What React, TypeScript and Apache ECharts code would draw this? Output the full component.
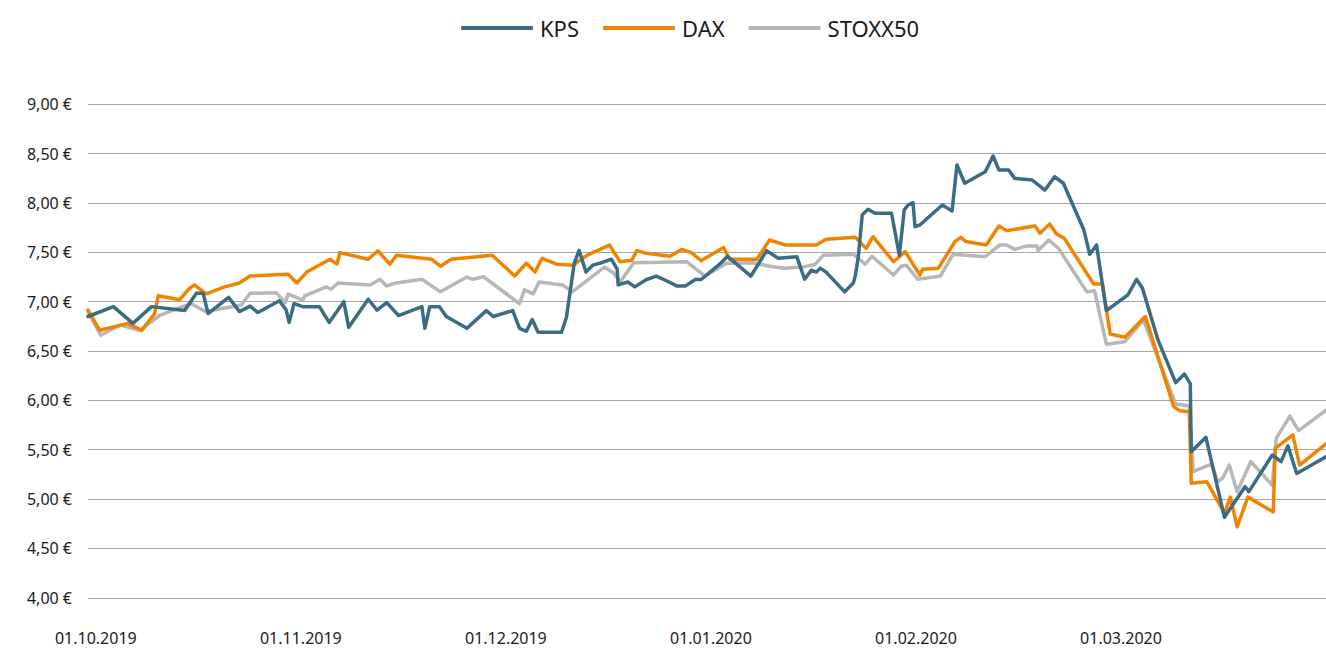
import React, { useEffect, useRef } from "react";
import * as echarts from "echarts";

// x = trading-day index from 01.10.2019 (21 per month label), y = price in €
const monthLabels = ["01.10.2019", "01.11.2019", "01.12.2019", "01.01.2020", "01.02.2020", "01.03.2020"];
const monthTicks = [0, 21, 42, 63, 84, 105];
const yTicksMin = 4;
const yTicksMax = 9;

const kpsPoints: [number, number][] = [
  [-0.8, 6.85], [1.8, 6.95], [3.8, 6.78], [5.7, 6.95], [9.1, 6.91], [10.3, 7.085], [11.0, 7.085],
  [11.5, 6.88], [13.6, 7.045], [14.7, 6.9], [15.8, 6.955], [16.6, 6.89], [18.8, 7.01], [19.5, 6.915],
  [19.8, 6.79], [20.3, 6.98], [21.2, 6.95], [22.9, 6.95], [23.9, 6.79], [25.4, 7.0], [25.9, 6.74],
  [27.9, 7.025], [28.8, 6.915], [29.8, 6.99], [31.0, 6.86], [33.4, 6.95], [33.7, 6.73], [34.2, 6.95],
  [35.2, 6.95], [35.9, 6.85], [38.0, 6.73], [40.0, 6.91], [40.7, 6.85], [42.7, 6.91], [43.4, 6.73],
  [44.1, 6.7], [44.7, 6.82], [45.3, 6.69], [47.7, 6.69], [48.2, 6.84], [49.0, 7.39], [49.5, 7.52],
  [50.2, 7.3], [50.9, 7.37], [51.8, 7.395], [52.8, 7.43], [53.4, 7.33], [53.5, 7.17], [54.5, 7.2],
  [55.2, 7.15], [56.4, 7.225], [57.4, 7.26], [58.5, 7.21], [59.5, 7.16], [60.4, 7.16], [61.4, 7.225],
  [62.0, 7.225], [63.9, 7.38], [64.7, 7.46], [67.1, 7.26], [68.7, 7.517], [69.9, 7.44], [71.8, 7.456],
  [72.6, 7.227], [73.3, 7.32], [73.8, 7.3], [74.2, 7.34], [74.8, 7.3], [76.7, 7.1], [77.6, 7.19],
  [77.8, 7.27], [78.1, 7.456], [78.5, 7.88], [79.1, 7.936], [79.8, 7.896], [81.5, 7.896], [82.3, 7.47],
  [82.8, 7.93], [83.2, 7.98], [83.7, 8.003], [83.9, 7.76], [84.4, 7.777], [86.7, 7.98], [87.7, 7.92],
  [88.2, 8.385], [89.0, 8.2], [91.1, 8.317], [91.9, 8.476], [92.5, 8.334], [93.5, 8.334], [94.1, 8.25],
  [95.9, 8.233], [97.2, 8.13], [98.2, 8.266], [99.1, 8.2], [101.2, 7.727], [101.8, 7.48], [102.5, 7.575],
  [103.5, 6.91], [105.7, 7.068], [106.6, 7.227], [107.2, 7.136], [108.8, 6.61], [110.6, 6.18],
  [111.5, 6.267], [112.1, 6.17], [112.2, 5.48], [113.7, 5.626], [115.6, 4.816], [117.7, 5.126],
  [118.1, 5.076], [120.5, 5.447], [121.4, 5.38], [122.1, 5.54], [123.0, 5.26], [126.0, 5.43],
];

const daxPoints: [number, number][] = [
  [-0.8, 6.916], [0.4, 6.71], [3.3, 6.78], [4.7, 6.71], [6.0, 6.875], [6.4, 7.06], [8.6, 7.02],
  [9.5, 7.126], [10.1, 7.17], [11.3, 7.08], [13.2, 7.15], [14.7, 7.19], [15.8, 7.26], [19.7, 7.278],
  [20.6, 7.19], [21.6, 7.3], [24.0, 7.43], [24.7, 7.38], [25.0, 7.497], [27.9, 7.43], [28.9, 7.516],
  [30.1, 7.38], [30.8, 7.47], [34.4, 7.43], [35.3, 7.36], [36.4, 7.43], [40.6, 7.47], [42.9, 7.26],
  [44.1, 7.39], [45.0, 7.3], [45.7, 7.44], [47.2, 7.38], [48.9, 7.37], [50.3, 7.47], [52.6, 7.574],
  [53.7, 7.405], [54.9, 7.42], [55.4, 7.517], [56.4, 7.49], [58.8, 7.46], [60.0, 7.53], [61.0, 7.497],
  [62.0, 7.415], [64.3, 7.55], [64.9, 7.43], [67.7, 7.43], [69.0, 7.625], [70.6, 7.575], [73.8, 7.575],
  [74.8, 7.632], [77.8, 7.652], [78.9, 7.54], [79.6, 7.659], [81.7, 7.405], [82.9, 7.507], [84.4, 7.27],
  [84.7, 7.33], [86.3, 7.34], [88.0, 7.61], [88.6, 7.652], [89.1, 7.61], [91.2, 7.575], [92.5, 7.767],
  [93.3, 7.72], [96.2, 7.767], [96.7, 7.693], [97.7, 7.787], [98.4, 7.686], [99.2, 7.642],
  [102.2, 7.18], [103.1, 7.18], [103.9, 6.673], [105.4, 6.64], [107.5, 6.85], [110.4, 5.936],
  [111.0, 5.896], [112.0, 5.886], [112.2, 5.16], [113.8, 5.176], [115.6, 4.856], [116.2, 5.02],
  [116.9, 4.72], [118.0, 5.02], [120.6, 4.87], [120.8, 5.515], [122.6, 5.65], [123.3, 5.345],
  [126.0, 5.56],
];

const stoxxPoints: [number, number][] = [
  [-0.8, 6.9], [0.5, 6.66], [2.5, 6.764], [4.5, 6.71], [6.6, 6.865], [8.9, 6.95], [9.8, 6.98],
  [11.2, 6.9], [14.4, 6.956], [14.9, 6.966], [15.8, 7.085], [18.5, 7.09], [19.4, 6.99], [19.7, 7.077],
  [21.2, 7.017], [21.4, 7.06], [23.6, 7.15], [24.1, 7.126], [24.8, 7.19], [28.1, 7.17], [29.1, 7.227],
  [29.8, 7.16], [30.8, 7.19], [33.4, 7.227], [35.3, 7.1], [38.0, 7.25], [38.6, 7.227], [39.7, 7.253],
  [43.4, 6.98], [43.9, 7.12], [44.8, 7.08], [45.4, 7.2], [47.8, 7.17], [48.8, 7.1], [52.1, 7.35],
  [53.0, 7.294], [53.7, 7.2], [55.1, 7.395], [60.5, 7.405], [62.4, 7.26], [64.6, 7.39], [67.3, 7.395],
  [69.0, 7.36], [70.5, 7.34], [72.6, 7.355], [73.7, 7.38], [74.5, 7.47], [77.6, 7.48], [78.8, 7.38],
  [79.5, 7.46], [81.7, 7.27], [82.5, 7.36], [83.0, 7.37], [84.2, 7.227], [86.5, 7.26], [87.8, 7.48],
  [91.1, 7.456], [92.6, 7.575], [93.3, 7.575], [94.1, 7.53], [95.4, 7.565], [96.4, 7.565], [96.5, 7.517],
  [97.6, 7.625], [98.6, 7.54], [101.5, 7.1], [102.3, 7.11], [103.5, 6.57], [105.4, 6.595],
  [107.3, 6.815], [110.6, 5.964], [112.0, 5.943], [112.4, 5.278], [114.3, 5.356], [114.9, 5.176],
  [115.4, 5.21], [116.1, 5.345], [116.9, 5.075], [118.3, 5.38], [120.5, 5.14], [120.9, 5.616],
  [122.3, 5.84], [123.2, 5.693], [126.0, 5.9],
];

const seriesNames = ["KPS", "DAX", "STOXX50"];
const seriesColors = ["#3b6c82", "#f08400", "#b7b7b7"];

export default function App() {
  const ref = useRef<HTMLDivElement>(null);
  useEffect(() => {
    if (!ref.current) return;
    const chart = echarts.init(ref.current, undefined, { renderer: "svg" });
    const font = "'Noto Sans', 'Open Sans', sans-serif";
    const allData = [kpsPoints, daxPoints, stoxxPoints];
    chart.setOption({
      animation: false,
      backgroundColor: "#ffffff",
      textStyle: { fontFamily: font },
      legend: {
        left: 456,
        top: 12,
        icon: "roundRect",
        itemWidth: 72,
        itemHeight: 4,
        itemGap: 24,
        textStyle: { fontSize: 22, color: "#1a1a1a", fontFamily: font, padding: [0, 0, 0, 2] },
        data: seriesNames,
      },
      grid: { left: 88, right: 0, top: 104.3, bottom: 50.2 },
      xAxis: {
        type: "value",
        min: -0.8,
        max: 126,
        axisLine: { show: false },
        axisTick: { show: false },
        splitLine: { show: false },
        axisLabel: {
          customValues: monthTicks,
          margin: 32,
          fontSize: 16,
          color: "#1a1a1a",
          fontFamily: font,
          formatter: (v: number) => monthLabels[monthTicks.indexOf(Math.round(v))] ?? "",
        },
      },
      yAxis: {
        type: "value",
        min: yTicksMin,
        max: yTicksMax,
        interval: 0.5,
        axisLine: { show: false },
        axisTick: { show: false },
        splitLine: { show: true, lineStyle: { color: "#a6a6a6", width: 1 } },
        axisLabel: {
          margin: 16,
          fontSize: 16,
          color: "#1a1a1a",
          fontFamily: font,
          formatter: (v: number) => v.toFixed(2).replace(".", ",") + " €",
        },
      },
      series: seriesNames.map((name, i) => ({
        name,
        type: "line",
        symbol: "none",
        data: allData[i],
        z: 3 - i,
        color: seriesColors[i],
        lineStyle: { color: seriesColors[i], width: 3.5, join: "round", cap: "round" },
      })),
    });
    return () => chart.dispose();
  }, []);
  return <div ref={ref} style={{ position: "fixed", left: 0, top: 0, width: 1326, height: 648 }} />;
}
